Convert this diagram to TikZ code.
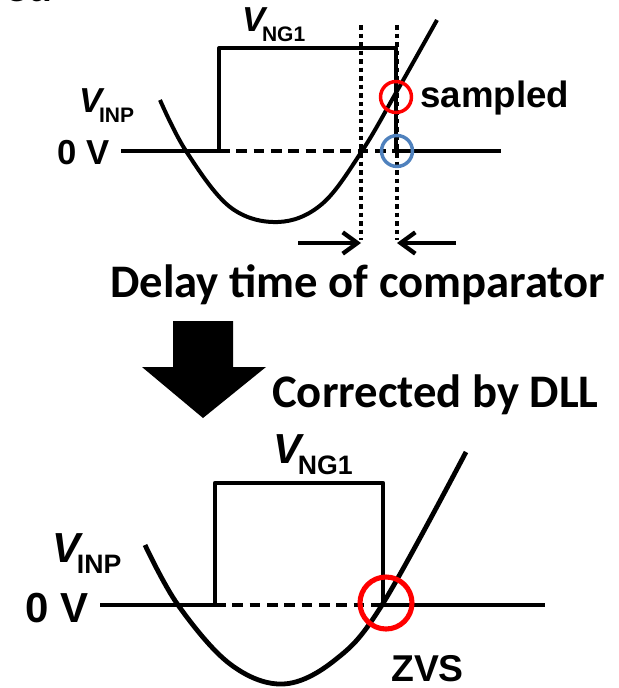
\documentclass[tikz,border=0pt]{standalone}
\usepackage{fontspec}
\setmainfont{Liberation Sans}
\newfontfamily\calibri{Carlito}
\usetikzlibrary{arrows.meta}
\definecolor{zvsred}{RGB}{255,0,0}
\definecolor{sampleblue}{RGB}{79,129,189}
\newcommand{\Vsub}[4]{{\fontsize{#1}{#1}\selectfont\itshape V}\kern-2.5pt\raisebox{-#3}{\fontsize{#2}{#2}\selectfont #4}}

\begin{document}
\begin{tikzpicture}[x=0.75pt,y=-0.75pt,line cap=butt,line join=round,font=\bfseries,
  wave/.style={line width=3pt},
  bigwave/.style={line width=3.6pt},
  zeroline/.style={line width=3pt,dash pattern=on 8pt off 5pt},
  bigzeroline/.style={line width=3.6pt,dash pattern=on 8pt off 5pt},
  dotline/.style={line width=3.4pt,dash pattern=on 3.4pt off 3pt},
  gaparrow/.style={line width=3.2pt,-{Straight Barb[length=11pt,width=16pt]}},
  lbl/.style={anchor=base west,inner sep=0pt}]
  \useasboundingbox (0,0) rectangle (618,688);

  \node[lbl,anchor=base east,font=\calibri\bfseries\fontsize{35}{35}\selectfont] (head) at (53,2) {ed};

  % before correction
  \draw[wave] (121,151) -- (219,151) |- (396,48) -- (396,151);
  \draw[zeroline] (219,151) -- (396,151);
  \draw[wave] (396,151) -- (501,151);
  \draw[wave] plot[smooth,tension=.6] coordinates {
    (160,100) (186,151) (230,207) (278,222) (322,204) (362,151) (397,91) (437,20)};
  \foreach \x in {361,397}
    \draw[dotline] (\x,25) -- (\x,240);
  \draw[zvsred,line width=2.6pt] (396,97) circle (11.6pt);
  \draw[sampleblue,line width=2.6pt] (397,151) circle (11.6pt);

  \coordinate (dl) at (298,243);
  \coordinate (dr) at (456,243);
  \draw[gaparrow] (dl) -- (361,243);
  \draw[gaparrow] (dr) -- (397,243);

  \node[lbl] (vng) at (242,32) {\Vsub{26}{15.75}{7.5pt}{NG1}};
  \node[lbl] (vinp) at (79,113) {\Vsub{26}{15.75}{7.5pt}{INP}};
  \node[lbl,font=\bfseries\fontsize{26}{26}\selectfont] (zero) at (57,165) {0 V};
  \node[lbl,font=\bfseries\fontsize{27.5}{27.5}\selectfont] (smp) at (420,108) {sampled};

  \node[lbl,font=\calibri\bfseries\fontsize{35}{35}\selectfont] (delay) at (110,297) {Delay time of comparator};

  \fill (173,321) -- (233,321) -- (233,367) -- (266,367) -- (203,418) -- (142,367) -- (173,367) -- cycle;
  \node[lbl,font=\calibri\bfseries\fontsize{35}{35}\selectfont] (dll) at (272,407) {Corrected by DLL};

  % after correction
  \draw[bigwave] (100,605) -- (215,605) |- (383,483) -- (383,605);
  \draw[bigzeroline] (215,605) -- (383,605);
  \draw[bigwave] (383,605) -- (545,605);
  \draw[bigwave] plot[smooth,tension=.6] coordinates {
    (145,545) (178,605) (230,664) (283,684) (335,660) (382,605) (466,452)};
  \draw[zvsred,line width=3.8pt] (386,603) circle (19.5pt);

  \node[lbl] (vng2) at (273,463) {\Vsub{31.5}{20}{8.5pt}{NG1}};
  \node[lbl] (vinp2) at (52,562) {\Vsub{31.5}{20}{8.5pt}{INP}};
  \node[lbl,font=\bfseries\fontsize{31.5}{31.5}\selectfont] (zero2) at (25,622) {0 V};
  \node[lbl,font=\bfseries\fontsize{28}{28}\selectfont] (zvs) at (391,681) {ZVS};
\end{tikzpicture}
\end{document}
